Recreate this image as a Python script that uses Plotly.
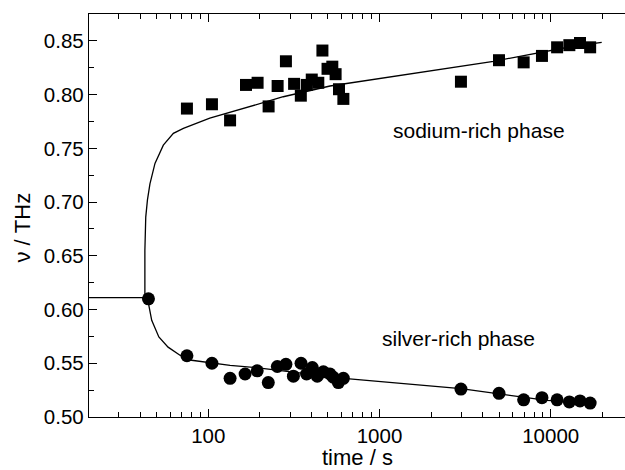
import plotly.graph_objects as go

# Silver-rich phase (circles)
t_silver = [44.7, 75, 105, 134, 164, 193, 224, 253, 284, 314, 348, 375, 405, 433, 470, 514, 537, 575, 615,
            2990, 4990, 6950, 8890, 10900, 12850, 14830, 17000]
v_silver = [0.610, 0.557, 0.550, 0.536, 0.540, 0.543, 0.532, 0.547, 0.549, 0.538, 0.550, 0.540, 0.546, 0.538,
            0.542, 0.540, 0.537, 0.532, 0.536, 0.526, 0.522, 0.516, 0.518, 0.516, 0.514, 0.515, 0.513]

# Sodium-rich phase (squares)
t_sodium = [75, 105, 134, 166, 194, 225, 254, 284, 317, 347, 376, 402, 439, 464, 497, 530, 554, 580, 615,
            2990, 4990, 6950, 8890, 10900, 12850, 14830, 17000]
v_sodium = [0.787, 0.791, 0.776, 0.809, 0.811, 0.789, 0.808, 0.831, 0.810, 0.799, 0.809, 0.814, 0.811, 0.841,
            0.824, 0.826, 0.819, 0.805, 0.796, 0.812, 0.832, 0.830, 0.836, 0.844, 0.846, 0.848, 0.844]

# Fit curves
t_fit_upper = [20, 42.6, 42.6, 43.1, 44.1, 45.6, 48.8, 54.6, 62.5, 71.5, 102, 175, 274, 514, 1000, 1970,
               4630, 13550, 19860]
v_fit_upper = [0.611, 0.611, 0.655, 0.686, 0.702, 0.717, 0.736, 0.753, 0.764, 0.7685, 0.778, 0.789, 0.798,
               0.808, 0.815, 0.822, 0.831, 0.845, 0.8486]
t_fit_lower = [44.7, 44.9, 46.7, 51.4, 58.2, 68.3, 79.9, 102, 134, 190, 300, 643, 2990, 4990, 9490, 17500]
v_fit_lower = [0.610, 0.604, 0.590, 0.5745, 0.565, 0.5575, 0.5528, 0.5503, 0.548, 0.546, 0.542, 0.5357,
               0.5264, 0.5218, 0.5155, 0.5135]

x_major = [100, 1000, 10000]
x_major_text = ["100", "1000", "10000"]
x_minor = [20, 30, 40, 50, 60, 70, 80, 90, 200, 300, 400, 500, 600, 700, 800, 900,
           2000, 3000, 4000, 5000, 6000, 7000, 8000, 9000, 20000]

FONT = "Liberation Sans, Arial, Helvetica, sans-serif"

fig = go.Figure()
fig.add_trace(go.Scatter(x=t_fit_upper, y=v_fit_upper, mode="lines",
                         line=dict(color="black", width=1.3), showlegend=False, hoverinfo="skip"))
fig.add_trace(go.Scatter(x=t_fit_lower, y=v_fit_lower, mode="lines",
                         line=dict(color="black", width=1.3), showlegend=False, hoverinfo="skip"))
fig.add_trace(go.Scatter(x=t_sodium, y=v_sodium, mode="markers",
                         marker=dict(symbol="square", size=12, color="black"), showlegend=False))
fig.add_trace(go.Scatter(x=t_silver, y=v_silver, mode="markers",
                         marker=dict(symbol="circle", size=13, color="black"), showlegend=False))

fig.add_annotation(x=3.583, y=0.767, xref="x", yref="y", text="sodium-rich phase", showarrow=False,
                   font=dict(family=FONT, size=21, color="black"))
fig.add_annotation(x=3.460, y=0.573, xref="x", yref="y", text="silver-rich phase", showarrow=False,
                   font=dict(family=FONT, size=21, color="black"))
fig.add_annotation(x=0.5, y=-0.1017, xref="paper", yref="paper", text="time / s", showarrow=False,
                   xanchor="center", yanchor="middle", font=dict(family=FONT, size=22, color="black"))
fig.add_annotation(x=-0.124, y=0.469, xref="paper", yref="paper", text="ν / THz", showarrow=False,
                   textangle=-90, xanchor="center", yanchor="middle",
                   font=dict(family=FONT, size=22, color="black"))

fig.update_layout(
    width=625, height=470,
    margin=dict(l=89, r=0, t=14, b=53),
    paper_bgcolor="white", plot_bgcolor="white",
    font=dict(family=FONT, size=20.5, color="black"),
    xaxis=dict(type="log", range=[1.303, 4.434], tickmode="array", tickvals=x_major, ticktext=x_major_text,
               ticks="inside", ticklen=8, tickwidth=1.3, tickcolor="black",
               showline=True, linecolor="black", linewidth=1.3, mirror="ticks",
               showgrid=False, zeroline=False,
               minor=dict(tickmode="array", tickvals=x_minor, ticks="inside", ticklen=4.5,
                          tickwidth=1.3, tickcolor="black", showgrid=False)),
    yaxis=dict(range=[0.50, 0.875], tickmode="linear", tick0=0.5, dtick=0.05, tickformat=".2f",
               ticks="inside", ticklen=8, tickwidth=1.3, tickcolor="black",
               showline=True, linecolor="black", linewidth=1.3, mirror=False,
               showgrid=False, zeroline=False,
               minor=dict(dtick=0.025, ticks="inside", ticklen=5, tickwidth=1.3, tickcolor="black",
                          showgrid=False)),
)

fig.write_html("out.html",
               config={"displayModeBar": False},
               post_script="document.body.style.margin='0';document.body.style.padding='0';"
                           "document.body.style.overflow='hidden';"
                           "document.documentElement.style.overflow='hidden';")
